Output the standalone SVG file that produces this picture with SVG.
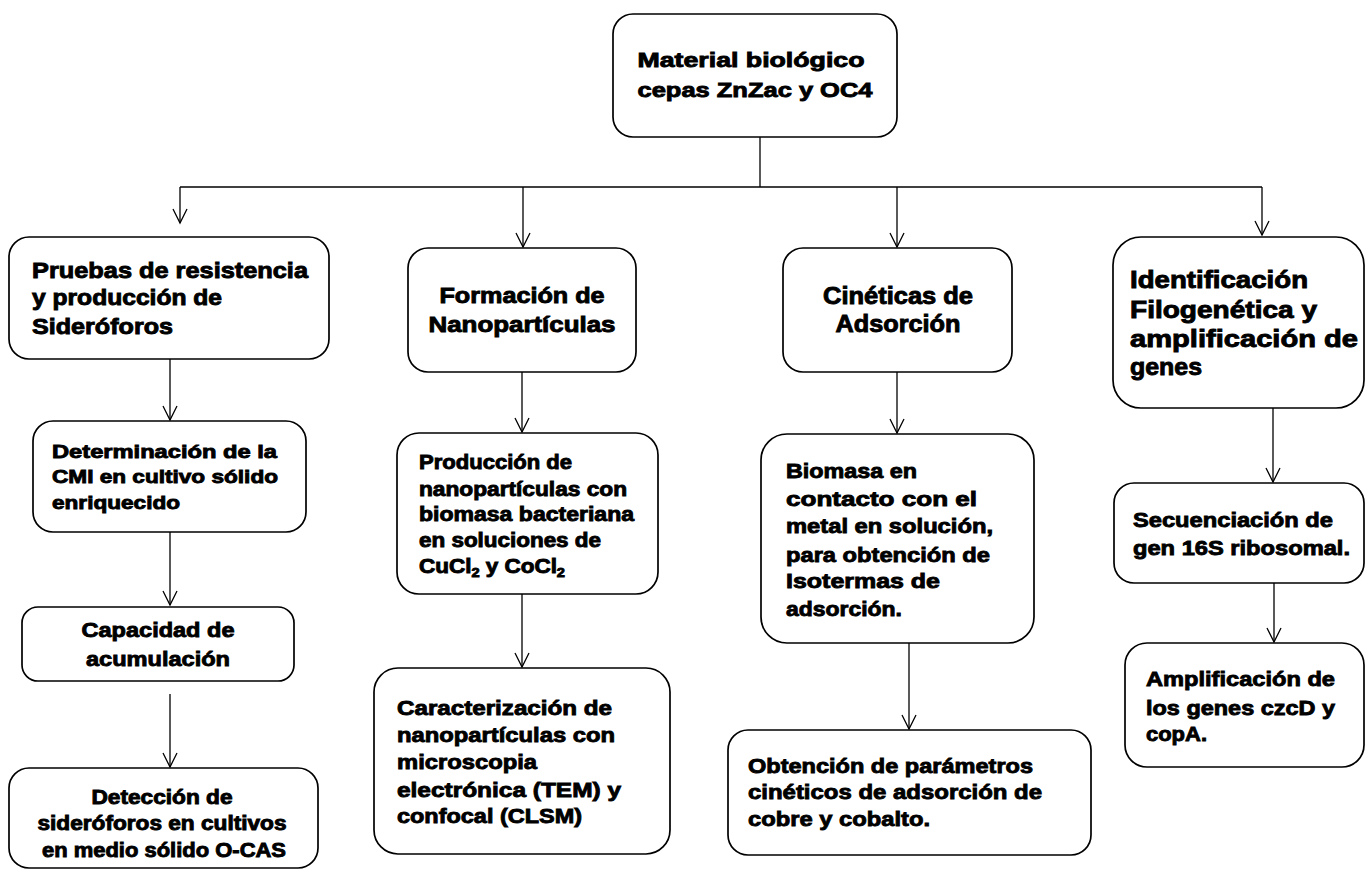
<svg xmlns="http://www.w3.org/2000/svg" width="1365" height="872" viewBox="0 0 1365 872">
<defs>
<marker id="arr" markerUnits="userSpaceOnUse" markerWidth="20" markerHeight="20" refX="16" refY="10" orient="auto" viewBox="0 0 20 20">
<path d="M2,3 L16,10 L2,17" fill="none" stroke="#000" stroke-width="1.3"/>
</marker>
</defs>
<style>
.box{fill:#fff;stroke:#000;stroke-width:1.7}
.t{font-family:"Liberation Sans",Arial,sans-serif;font-weight:bold;fill:#000;stroke:#000;stroke-width:0.9}
.c{text-anchor:middle}
.f21{font-size:21px}
.f20{font-size:20px}
.f19{font-size:19px}
.f22{font-size:22px}
.f23{font-size:23px}
.f24{font-size:24px}
.ln{fill:none;stroke:#000;stroke-width:1.3}
</style>
<rect width="1365" height="872" fill="#fff"/>
<g id="connectors">
<path class="ln" d="M760,137 V187"/>
<path class="ln" d="M180,187 H1262"/>
<path class="ln" d="M180,187 V223" marker-end="url(#arr)"/>
<path class="ln" d="M523,187 V247" marker-end="url(#arr)"/>
<path class="ln" d="M897,187 V247" marker-end="url(#arr)"/>
<path class="ln" d="M1262,187 V235" marker-end="url(#arr)"/>
<path class="ln" d="M170,359 V420" marker-end="url(#arr)"/>
<path class="ln" d="M170,532 V605" marker-end="url(#arr)"/>
<path class="ln" d="M170,694 V767" marker-end="url(#arr)"/>
<path class="ln" d="M522,372 V432" marker-end="url(#arr)"/>
<path class="ln" d="M522,583 V667" marker-end="url(#arr)"/>
<path class="ln" d="M897,372 V433" marker-end="url(#arr)"/>
<path class="ln" d="M909,643 V729" marker-end="url(#arr)"/>
<path class="ln" d="M1273,408 V482" marker-end="url(#arr)"/>
<path class="ln" d="M1274,583 V642" marker-end="url(#arr)"/>
</g>
<g id="n-material">
<rect class="box" x="613" y="14" width="284" height="123" rx="20"/>
<text class="t f21 c" x="751" y="67" textLength="227" lengthAdjust="spacingAndGlyphs">Material biológico</text>
<text class="t f21 c" x="755" y="97" textLength="235" lengthAdjust="spacingAndGlyphs">cepas ZnZac y OC4</text>
</g>
<g id="n-pruebas">
<rect class="box" x="9" y="237" width="320" height="122" rx="20"/>
<text class="t f22" x="32" y="278" textLength="276" lengthAdjust="spacingAndGlyphs">Pruebas de resistencia</text>
<text class="t f22" x="32" y="305" textLength="190" lengthAdjust="spacingAndGlyphs">y producción de</text>
<text class="t f22" x="32" y="334" textLength="141" lengthAdjust="spacingAndGlyphs">Sideróforos</text>
</g>
<g id="n-determinacion">
<rect class="box" x="33" y="421" width="273" height="111" rx="20"/>
<text class="t f19" x="52" y="458" textLength="225" lengthAdjust="spacingAndGlyphs">Determinación de  la</text>
<text class="t f19" x="52" y="483" textLength="226" lengthAdjust="spacingAndGlyphs">CMI en cultivo sólido</text>
<text class="t f19" x="52" y="509" textLength="128" lengthAdjust="spacingAndGlyphs">enriquecido</text>
</g>
<g id="n-capacidad">
<rect class="box" x="22" y="607" width="272" height="74" rx="16"/>
<text class="t f21 c" x="158" y="637" textLength="153" lengthAdjust="spacingAndGlyphs">Capacidad de</text>
<text class="t f21 c" x="158" y="666" textLength="144" lengthAdjust="spacingAndGlyphs">acumulación</text>
</g>
<g id="n-deteccion">
<rect class="box" x="9" y="768" width="309" height="100" rx="20"/>
<text class="t f20 c" x="162" y="804" textLength="141" lengthAdjust="spacingAndGlyphs">Detección de</text>
<text class="t f20 c" x="162" y="830" textLength="249" lengthAdjust="spacingAndGlyphs">sideróforos en cultivos</text>
<text class="t f20 c" x="164" y="857" textLength="244" lengthAdjust="spacingAndGlyphs">en medio sólido O-CAS</text>
</g>
<g id="n-formacion">
<rect class="box" x="408" y="248" width="228" height="124" rx="20"/>
<text class="t f22 c" x="522" y="303" textLength="165" lengthAdjust="spacingAndGlyphs">Formación de</text>
<text class="t f22 c" x="522" y="332" textLength="187" lengthAdjust="spacingAndGlyphs">Nanopartículas</text>
</g>
<g id="n-produccion">
<rect class="box" x="397" y="433" width="261" height="161" rx="22"/>
<text class="t f20" x="419" y="469" textLength="153" lengthAdjust="spacingAndGlyphs">Producción de</text>
<text class="t f20" x="419" y="496" textLength="208" lengthAdjust="spacingAndGlyphs">nanopartículas con</text>
<text class="t f20" x="419" y="521" textLength="215" lengthAdjust="spacingAndGlyphs">biomasa bacteriana</text>
<text class="t f20" x="419" y="547" textLength="182" lengthAdjust="spacingAndGlyphs">en soluciones de</text>
<text class="t f20" x="419" y="573" textLength="146" lengthAdjust="spacingAndGlyphs">CuCl<tspan font-size="13" dy="4">2</tspan><tspan dy="-4">  y CoCl</tspan><tspan font-size="13" dy="4">2</tspan></text>
</g>
<g id="n-caracterizacion">
<rect class="box" x="374" y="668" width="296" height="186" rx="24"/>
<text class="t f21" x="397" y="715" textLength="215" lengthAdjust="spacingAndGlyphs">Caracterización de</text>
<text class="t f21" x="397" y="742" textLength="218" lengthAdjust="spacingAndGlyphs">nanopartículas con</text>
<text class="t f21" x="397" y="769" textLength="140" lengthAdjust="spacingAndGlyphs">microscopia</text>
<text class="t f21" x="397" y="797" textLength="224" lengthAdjust="spacingAndGlyphs">electrónica (TEM) y</text>
<text class="t f21" x="397" y="823" textLength="185" lengthAdjust="spacingAndGlyphs">confocal (CLSM)</text>
</g>
<g id="n-cineticas">
<rect class="box" x="783" y="248" width="229" height="124" rx="20"/>
<text class="t f23 c" x="898" y="304" textLength="150" lengthAdjust="spacingAndGlyphs">Cinéticas de</text>
<text class="t f23 c" x="898" y="332" textLength="125" lengthAdjust="spacingAndGlyphs">Adsorción</text>
</g>
<g id="n-biomasa">
<rect class="box" x="761" y="434" width="273" height="209" rx="26"/>
<text class="t f21" x="786" y="478" textLength="131" lengthAdjust="spacingAndGlyphs">Biomasa en</text>
<text class="t f21" x="786" y="506" textLength="191" lengthAdjust="spacingAndGlyphs">contacto  con  el</text>
<text class="t f21" x="786" y="533" textLength="207" lengthAdjust="spacingAndGlyphs">metal en solución,</text>
<text class="t f21" x="786" y="562" textLength="204" lengthAdjust="spacingAndGlyphs">para obtención de</text>
<text class="t f21" x="786" y="588" textLength="154" lengthAdjust="spacingAndGlyphs">Isotermas  de</text>
<text class="t f21" x="786" y="616" textLength="116" lengthAdjust="spacingAndGlyphs">adsorción.</text>
</g>
<g id="n-obtencion">
<rect class="box" x="728" y="730" width="363" height="125" rx="20"/>
<text class="t f21" x="748" y="773" textLength="285" lengthAdjust="spacingAndGlyphs">Obtención de parámetros</text>
<text class="t f21" x="748" y="799" textLength="294" lengthAdjust="spacingAndGlyphs">cinéticos de adsorción de</text>
<text class="t f21" x="748" y="826" textLength="182" lengthAdjust="spacingAndGlyphs">cobre y cobalto.</text>
</g>
<g id="n-identificacion">
<rect class="box" x="1113" y="237" width="251" height="171" rx="28"/>
<text class="t f24" x="1130" y="288" textLength="178" lengthAdjust="spacingAndGlyphs">Identificación</text>
<text class="t f24" x="1130" y="318" textLength="187" lengthAdjust="spacingAndGlyphs">Filogenética  y</text>
<text class="t f24" x="1130" y="347" textLength="228" lengthAdjust="spacingAndGlyphs">amplificación de</text>
<text class="t f24" x="1130" y="375" textLength="72" lengthAdjust="spacingAndGlyphs">genes</text>
</g>
<g id="n-secuenciacion">
<rect class="box" x="1114" y="483" width="250" height="100" rx="20"/>
<text class="t f21" x="1133" y="527" textLength="200" lengthAdjust="spacingAndGlyphs">Secuenciación de</text>
<text class="t f21" x="1133" y="555" textLength="217" lengthAdjust="spacingAndGlyphs">gen 16S ribosomal.</text>
</g>
<g id="n-amplificacion">
<rect class="box" x="1125" y="643" width="239" height="124" rx="22"/>
<text class="t f21" x="1146" y="686" textLength="189" lengthAdjust="spacingAndGlyphs">Amplificación de</text>
<text class="t f21" x="1146" y="715" textLength="189" lengthAdjust="spacingAndGlyphs">los genes  czcD y</text>
<text class="t f21" x="1146" y="741" textLength="61" lengthAdjust="spacingAndGlyphs">copA.</text>
</g>
</svg>
